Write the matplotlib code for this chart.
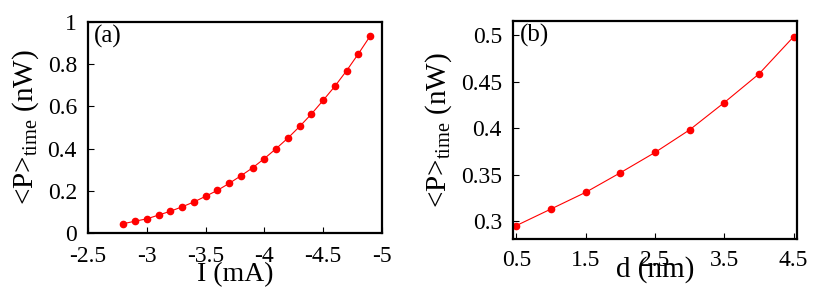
import matplotlib.pyplot as plt

current = [-2.8, -2.9, -3.0, -3.1, -3.2, -3.3, -3.4, -3.5, -3.6, -3.7, -3.8,
           -3.9, -4.0, -4.1, -4.2, -4.3, -4.4, -4.5, -4.6, -4.7, -4.8, -4.9]
power_a = [0.044, 0.056, 0.067, 0.085, 0.103, 0.124, 0.147, 0.174, 0.202, 0.235,
           0.271, 0.309, 0.353, 0.400, 0.450, 0.505, 0.564, 0.629, 0.696, 0.770,
           0.850, 0.934]

dist = [0.5, 1.0, 1.5, 2.0, 2.5, 3.0, 3.5, 4.0, 4.5]
power_b = [0.2954, 0.3132, 0.3311, 0.3521, 0.3739, 0.3982, 0.4275, 0.4582, 0.4982]

xticks_a = [-2.5, -3, -3.5, -4, -4.5, -5]
yticks_a = [0, 0.2, 0.4, 0.6, 0.8, 1]
xticks_b = [0.5, 1.5, 2.5, 3.5, 4.5]
yticks_b = [0.3, 0.35, 0.4, 0.45, 0.5]


def fmt(v):
    return f"{v:g}"


def main():
    plt.rcParams["font.family"] = ["Liberation Serif", "DejaVu Serif"]
    plt.rcParams["mathtext.fontset"] = "custom"
    plt.rcParams["mathtext.rm"] = "Liberation Serif"
    plt.rcParams["mathtext.it"] = "Liberation Serif"

    fig = plt.figure(figsize=(8.3, 2.92), dpi=100)
    ax1 = fig.add_axes([88 / 830, 1 - 233 / 292, (382 - 88) / 830, (233 - 22) / 292])
    ax2 = fig.add_axes([513 / 830, 1 - 239 / 292, (797 - 513) / 830, (239 - 21) / 292])

    ax1.plot(current, power_a, color="red", lw=0.8, marker="o", ms=4.5)
    ax1.set_xlim(-2.5, -5)
    ax1.set_ylim(0, 1)
    ax1.set_xticks(xticks_a)
    ax1.set_xticklabels([fmt(v) for v in xticks_a])
    ax1.set_yticks(yticks_a)
    ax1.set_yticklabels([fmt(v) for v in yticks_a])
    ax1.set_xlabel("I (mA)", fontsize=20, labelpad=-3)
    ax1.set_ylabel(r"<P>$_{\rm time}$ (nW)", fontsize=21, labelpad=5)
    ax1.text(0.02, 0.985, "(a)", transform=ax1.transAxes, fontsize=18,
             va="top", ha="left")

    ax2.plot(dist, power_b, color="red", lw=0.8, marker="o", ms=4.5)
    ax2.set_xlim(0.452, 4.548)
    ax2.set_ylim(0.281, 0.515)
    ax2.set_xticks(xticks_b)
    ax2.set_xticklabels([fmt(v) for v in xticks_b])
    ax2.set_yticks(yticks_b)
    ax2.set_yticklabels([fmt(v) for v in yticks_b])
    ax2.set_xlabel("d (nm)", fontsize=21, labelpad=-11)
    ax2.set_ylabel(r"<P>$_{\rm time}$ (nW)", fontsize=21, labelpad=5)
    ax2.text(0.025, 0.985, "(b)", transform=ax2.transAxes, fontsize=18,
             va="top", ha="left")

    ax1.tick_params(axis="x", pad=9)
    ax2.tick_params(axis="x", pad=8)
    for ax in (ax1, ax2):
        ax.tick_params(direction="in", length=4, width=0.8, labelsize=17,
                       top=False, right=False)
        ax.tick_params(axis="y", pad=8)
        for sp in ax.spines.values():
            sp.set_linewidth(1.6)

    fig.savefig("out.png", dpi=100)


if __name__ == "__main__":
    main()
